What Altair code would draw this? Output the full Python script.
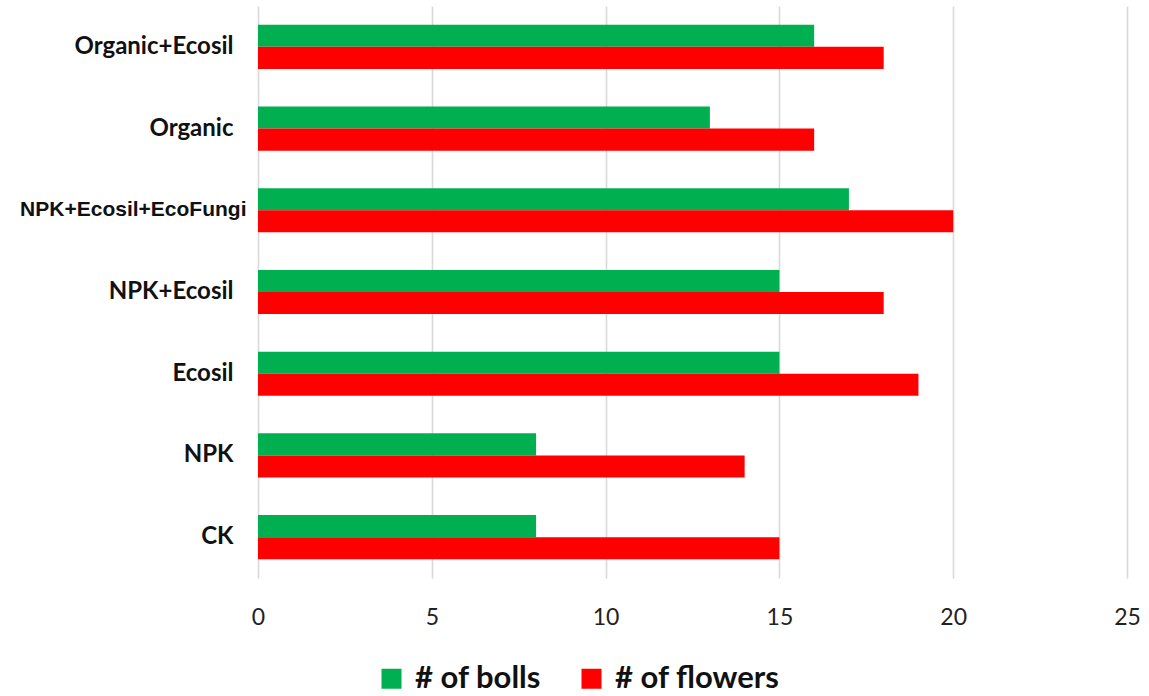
import altair as alt
import pandas as pd

categories = ["Organic+Ecosil", "Organic", "NPK+Ecosil+EcoFungi", "NPK+Ecosil", "Ecosil", "NPK", "CK"]
bolls = [16, 13, 17, 15, 15, 8, 8]
flowers = [18, 16, 20, 18, 19, 14, 15]
series = ["# of bolls", "# of flowers"]
colors = ["#00B050", "#FF0000"]

rows = []
for c, b, f in zip(categories, bolls, flowers):
    rows.append({"treatment": c, "series": series[0], "value": b})
    rows.append({"treatment": c, "series": series[1], "value": f})
df = pd.DataFrame(rows)

is_long = "datum.value == 'NPK+Ecosil+EcoFungi'"

chart = alt.Chart(df).mark_bar().encode(
    y=alt.Y(
        "treatment:N",
        sort=categories,
        title=None,
        scale=alt.Scale(paddingInner=0.46, paddingOuter=0.23),
        axis=alt.Axis(
            domain=False,
            ticks=False,
            grid=False,
            labelFont=alt.condition(is_long, alt.value("Liberation Sans"), alt.value("Lato")),
            labelFontSize=alt.condition(is_long, alt.value(21), alt.value(24)),
            labelPadding=alt.condition(is_long, alt.value(12), alt.value(25)),
            labelFontWeight="bold",
            labelColor="#111111",
            labelLimit=400,
        ),
    ),
    yOffset=alt.YOffset("series:N", sort=series),
    x=alt.X(
        "value:Q",
        title=None,
        scale=alt.Scale(domain=[0, 25], nice=False),
        axis=alt.Axis(
            values=[0, 5, 10, 15, 20, 25],
            domain=False,
            ticks=False,
            grid=True,
            gridColor="#d9d9d9",
            gridWidth=1.6,
            labelFont="Lato",
            labelFontSize=23,
            labelColor="#222222",
            labelPadding=28,
            labelFlush=False,
        ),
    ),
    color=alt.Color(
        "series:N",
        sort=series,
        scale=alt.Scale(domain=series, range=colors),
        legend=alt.Legend(
            title=None,
            orient="none",
            direction="horizontal",
            legendX=118,
            legendY=657,
            symbolType="square",
            symbolSize=400,
            symbolStrokeWidth=0,
            labelFont="Lato",
            labelFontSize=31,
            labelFontWeight="bold",
            labelColor="#111111",
            labelOffset=8,
            columnPadding=34,
            labelLimit=400,
        ),
    ),
).properties(
    width=869,
    height=572,
    autosize=alt.AutoSizeParams(type="none"),
    padding={"left": 258, "top": 6, "right": 22, "bottom": 118},
).configure(background="white").configure_view(stroke=None)

chart.save("out.html", embed_options={"renderer": "svg", "actions": False})
